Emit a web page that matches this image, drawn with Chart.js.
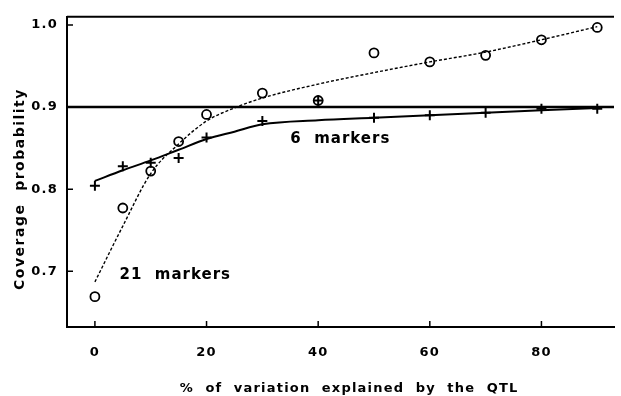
<!DOCTYPE html>
<html>
<head>
<meta charset="utf-8">
<script src="https://cdn.jsdelivr.net/npm/chart.js@4/dist/chart.umd.min.js"></script>
<style>
  html, body { margin: 0; padding: 0; background: #fff; }
  canvas { display: block; }
</style>
</head>
<body>
<canvas id="chart" width="621" height="396"></canvas>
<script>
// % of variation explained by the QTL
const xValues = [0, 5, 10, 15, 20, 30, 40, 50, 60, 70, 80, 90];
// observed coverage: 21 markers (circles), 6 markers (pluses)
const cover21 = [0.669, 0.777, 0.822, 0.858, 0.891, 0.917, 0.908, 0.966, 0.955, 0.963, 0.982, 0.997];
const cover6 = [0.804, 0.828, 0.832, 0.838, 0.863, 0.883, 0.908, 0.887, 0.890, 0.893, 0.898, 0.898];
// smoothed curves
const fitX = [0, 5, 10, 15, 20, 25, 30, 40, 50, 60, 70, 80, 90];
const fit21 = [0.687, 0.755, 0.819, 0.855, 0.883, 0.899, 0.911, 0.928, 0.942, 0.955, 0.967, 0.982, 0.998];
const fit6 = [0.810, 0.823, 0.835, 0.848, 0.861, 0.870, 0.879, 0.884, 0.887, 0.890, 0.893, 0.896, 0.899];
const nominal = 0.9;
const xTicks = [0, 20, 40, 60, 80];
const yTicks = [0.7, 0.8, 0.9, 1.0];
const xRange = [-5, 93];
const yRange = [0.632, 1.01];
const notes = [
  {text: "21  markers", x: 4.4, y: 0.695},
  {text: "6  markers", x: 35, y: 0.861}
];

const FONT = "'DejaVu Sans', sans-serif";

function pts(xs, ys){
  return xs.map((v, i) => ({x: v, y: ys[i]}));
}

//Frame, inward ticks, notes and y title
const frame = {
  id: "frame",
  beforeDraw(chart){
    chart.ctx.letterSpacing = "1.2px";
  },
  afterDraw(chart){
    const {ctx, chartArea: a, scales: {x, y}} = chart;
    ctx.save();
    ctx.strokeStyle = "#000";
    ctx.lineWidth = 2;
    ctx.beginPath();
    ctx.moveTo(a.left, a.top);
    ctx.lineTo(a.right, a.top);
    ctx.stroke();

    ctx.lineWidth = 1.5;
    ctx.beginPath();
    for(let v of xTicks){
      let px = x.getPixelForValue(v);
      ctx.moveTo(px, a.bottom);
      ctx.lineTo(px, a.bottom - 6);
    }
    for(let v of yTicks){
      let py = y.getPixelForValue(v);
      ctx.moveTo(a.left, py);
      ctx.lineTo(a.left + 6, py);
    }
    ctx.stroke();

    ctx.fillStyle = "#000";
    ctx.font = "bold 15px " + FONT;
    ctx.letterSpacing = "1px";
    ctx.textAlign = "left";
    ctx.textBaseline = "middle";
    for(let n of notes){
      ctx.fillText(n.text, x.getPixelForValue(n.x), y.getPixelForValue(n.y));
    }

    ctx.font = "bold 14px " + FONT;
    ctx.letterSpacing = "1.5px";
    ctx.textAlign = "center";
    ctx.translate(20, 189);
    ctx.rotate(-Math.PI / 2);
    ctx.fillText("Coverage  probability", 0, 0);
    ctx.restore();
  }
};

new Chart(document.querySelector("#chart").getContext("2d"), {
  type: "scatter",
  data: {
    datasets: [
      {
        label: "nominal",
        data: pts(xRange, [nominal, nominal]),
        showLine: true,
        borderColor: "#000",
        borderWidth: 2.5,
        pointRadius: 0
      },
      {
        label: "21 markers fit",
        data: pts(fitX, fit21),
        showLine: true,
        borderColor: "#000",
        borderWidth: 1.4,
        borderDash: [3, 2],
        pointRadius: 0,
        cubicInterpolationMode: "monotone"
      },
      {
        label: "6 markers fit",
        data: pts(fitX, fit6),
        showLine: true,
        borderColor: "#000",
        borderWidth: 2,
        pointRadius: 0,
        cubicInterpolationMode: "monotone"
      },
      {
        label: "21 markers",
        data: pts(xValues, cover21),
        pointStyle: "circle",
        pointRadius: 4.5,
        borderWidth: 1.8,
        borderColor: "#000",
        backgroundColor: "rgba(0,0,0,0)"
      },
      {
        label: "6 markers",
        data: pts(xValues, cover6),
        pointStyle: "cross",
        pointRadius: 5,
        borderWidth: 2,
        borderColor: "#000"
      }
    ]
  },
  options: {
    responsive: false,
    animation: false,
    layout: {padding: {top: 14, right: 0, left: 0, bottom: 0}},
    plugins: {legend: {display: false}, tooltip: {enabled: false}},
    scales: {
      x: {
        type: "linear",
        min: xRange[0],
        max: xRange[1],
        afterFit: s => { s.height = 69; },
        afterBuildTicks: s => { s.ticks = xTicks.map(v => ({value: v})); },
        grid: {display: false, drawTicks: false, tickLength: 0},
        border: {display: true, color: "#000", width: 2},
        ticks: {color: "#000", font: {family: FONT, size: 13, weight: "bold"}, padding: 18, maxRotation: 0},
        title: {
          display: true,
          text: "   %  of  variation  explained  by  the  QTL",
          color: "#000",
          font: {family: FONT, size: 13, weight: "bold"},
          padding: {top: 0, bottom: 0}
        }
      },
      y: {
        type: "linear",
        min: yRange[0],
        max: yRange[1],
        afterFit: s => { s.width = 67; },
        afterBuildTicks: s => { s.ticks = yTicks.map(v => ({value: v})); },
        grid: {display: false, drawTicks: false, tickLength: 0},
        border: {display: true, color: "#000", width: 2},
        ticks: {color: "#000", font: {family: FONT, size: 13, weight: "bold"}, padding: 9, callback: v => v.toFixed(1)}
      }
    }
  },
  plugins: [frame]
});
</script>
</body>
</html>
